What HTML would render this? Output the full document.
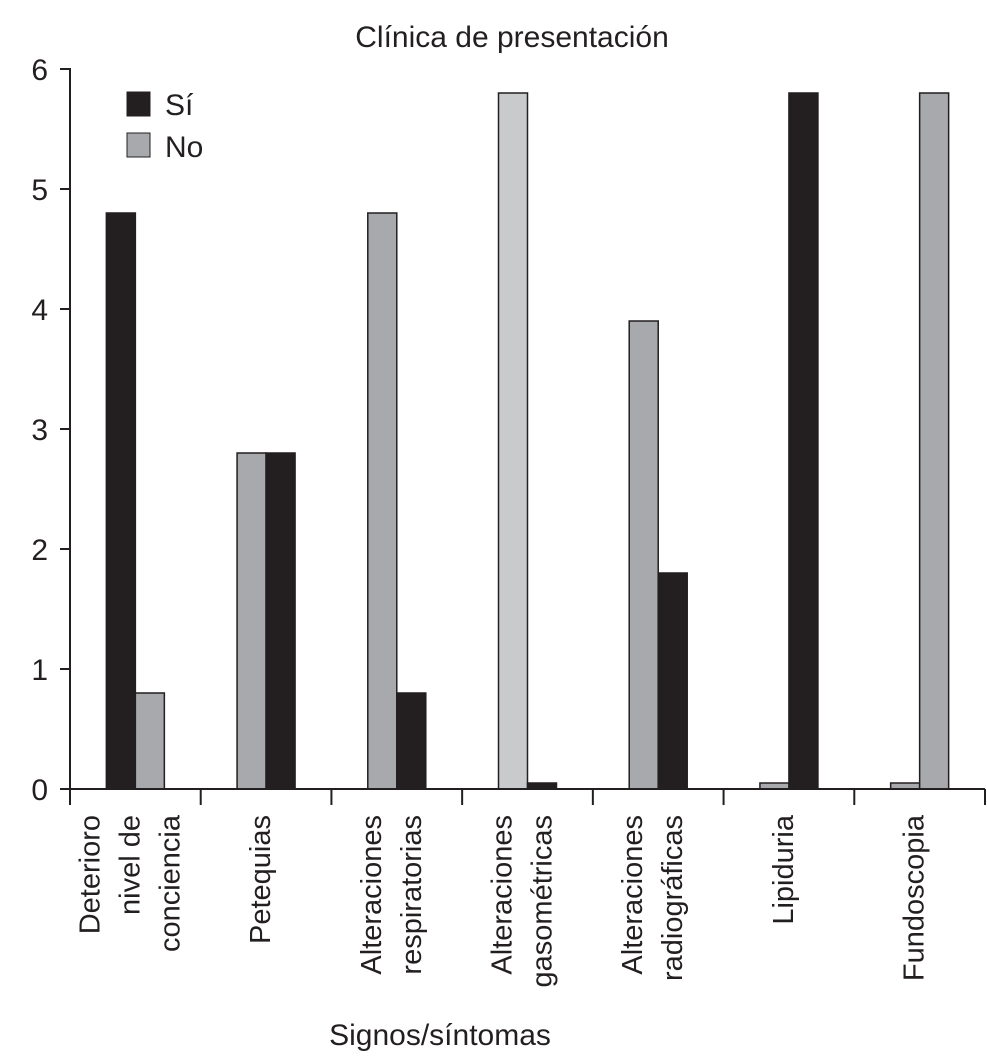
<!DOCTYPE html>
<html><head><meta charset="utf-8"><style>
body{margin:0;background:#fff}
svg{display:block;font-family:"Liberation Sans",sans-serif}
</style></head><body>
<svg id="c" width="987" height="1058">
<text x="512" y="47" font-size="30" text-anchor="middle" fill="#231f20">Clínica de presentación</text>
<text x="440" y="1045" font-size="30" text-anchor="middle" fill="#231f20">Signos/síntomas</text>
<g>
<rect x="127" y="92" width="23" height="24" fill="#231f20" stroke="#231f20"/>
<text x="165" y="115" font-size="30" fill="#231f20">Sí</text>
<rect x="127" y="133" width="23" height="24" fill="#a7a9ac" stroke="#231f20"/>
<text x="165" y="157" font-size="30" fill="#231f20">No</text>
</g>
<g id="g"></g>
</svg>
<script>
const categories=[["Deterioro","nivel de","conciencia"],["Petequias"],["Alteraciones","respiratorias"],["Alteraciones","gasométricas"],["Alteraciones","radiográficas"],["Lipiduria"],["Fundoscopia"]];
const siValues=[4.8,2.8,0.8,0.05,1.8,5.8,0.05];
const noValues=[0.8,2.8,4.8,5.8,3.9,0.05,5.8];
const yTicks=[0,1,2,3,4,5,6];
const siFirst=[true,false,false,false,false,false,true];
const ns="http://www.w3.org/2000/svg";
const g=document.getElementById('g');
const x0=70,x1=985,y0=789,ppu=120;
const gw=(x1-x0)/categories.length;
const yS=v=>y0-v*ppu;
function mk(t,a){const e=document.createElementNS(ns,t);for(const k in a)e.setAttribute(k,a[k]);g.appendChild(e);return e;}
let ax=mk('line',{x1:x0,y1:yS(6)-1,x2:x0,y2:y0,stroke:'#231f20','stroke-width':2});


yTicks.forEach(v=>{
 let t=mk('line',{x1:x0-10,y1:yS(v),x2:x0,y2:yS(v),stroke:'#231f20','stroke-width':2});
 
 
 let l=mk('text',{x:x0-22,y:yS(v)+11,'font-size':30,'text-anchor':'end',fill:'#231f20'});
 l.textContent=v;
 
 
});
categories.forEach((cat,i)=>{
 const cx=x0+gw*(i+0.5);
 const bw=29;
 const order=siFirst[i]?[['si',siValues[i]],['no',noValues[i]]]:[['no',noValues[i]],['si',siValues[i]]];
 order.forEach((o,j)=>{
  const bx=cx-bw+j*bw;
  const top=yS(o[1]);
  let fill=o[0]==='si'?(i===6?'#a7a9ac':'#231f20'):(i===3?'#c9cacc':'#a7a9ac');
  let r=mk('rect',{x:bx,y:top,width:bw,height:Math.max(y0-top,3),fill:fill,stroke:'#231f20','stroke-width':1.5});
  
  
 });
 const n=cat.length, lh=n===3?40:40;
 cat.forEach((s,k)=>{
  const lx=cx+(k-(n-1)/2)*lh+4;
  let t=mk('text',{x:0,y:0,'font-size':29,'text-anchor':'end',fill:'#231f20',transform:`translate(${lx},815) rotate(-90)`});
  t.textContent=s;
  
  
 });
});
for(let i=0;i<=categories.length;i++){
 let t=mk('line',{x1:x0+gw*i,y1:y0,x2:x0+gw*i,y2:y0+16,stroke:'#231f20','stroke-width':2});
 
 
}
let xa=mk('line',{x1:x0,y1:y0,x2:x1,y2:y0,stroke:'#231f20','stroke-width':2});


</script>
</body></html>
